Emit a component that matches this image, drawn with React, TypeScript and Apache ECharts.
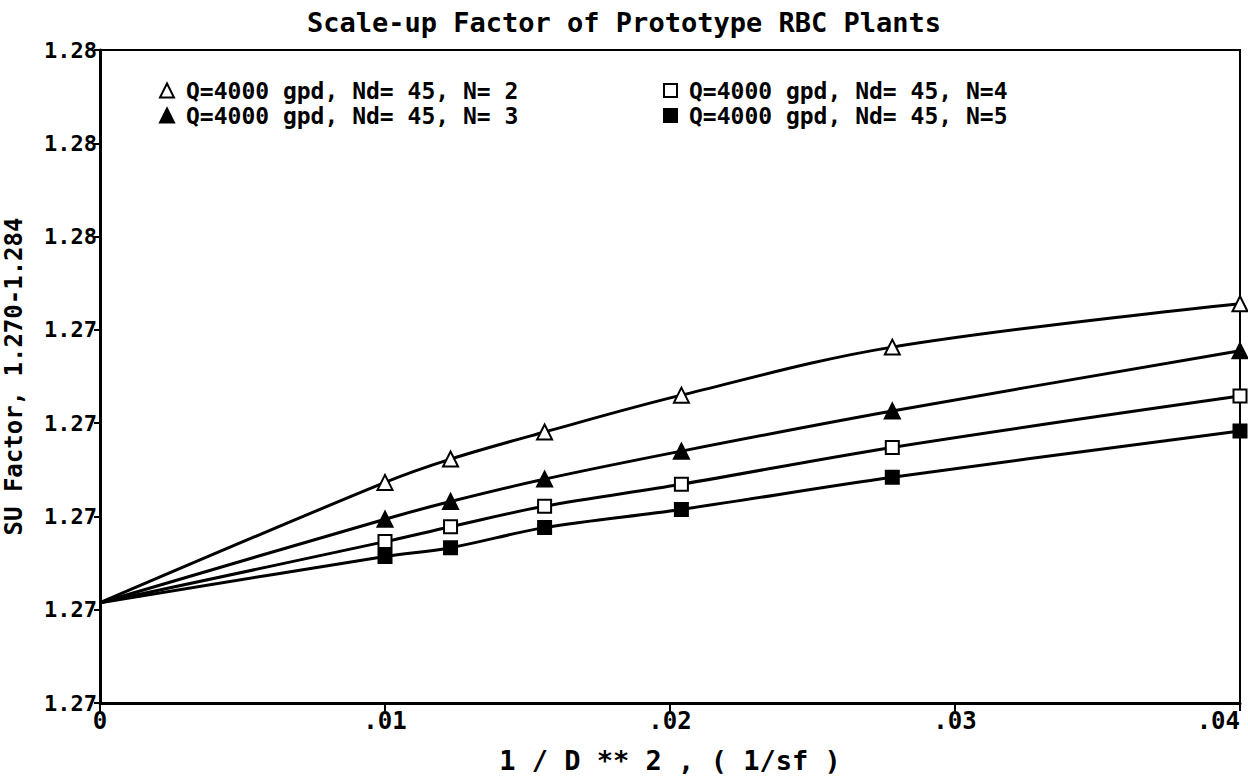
import React, { useEffect, useRef } from "react";
import * as echarts from "echarts";

const xValues = [0, 0.01, 0.0123, 0.0156, 0.0204, 0.0278, 0.04];
const seriesN2 = [1.27215, 1.27473, 1.27523, 1.27581, 1.2766, 1.27763, 1.27856];
const seriesN3 = [1.27215, 1.27394, 1.27432, 1.2748, 1.2754, 1.27626, 1.27755];
const seriesN4 = [1.27215, 1.27346, 1.27378, 1.27422, 1.27469, 1.27548, 1.27658];
const seriesN5 = [1.27215, 1.27314, 1.27333, 1.27376, 1.27415, 1.27484, 1.27583];
const seriesNames = [
  "Q=4000 gpd, Nd= 45, N= 2",
  "Q=4000 gpd, Nd= 45, N= 3",
  "Q=4000 gpd, Nd= 45, N=4",
  "Q=4000 gpd, Nd= 45, N=5",
];
const titleText = "Scale-up Factor of Prototype RBC Plants";
const xAxisName = "1 / D ** 2 , ( 1/sf )";
const yAxisName = "SU Factor, 1.270-1.284";

const FONT = "'DejaVu Sans Mono', 'Liberation Mono', monospace";

export default function App() {
  const ref = useRef<HTMLDivElement>(null);
  useEffect(() => {
    if (!ref.current) return;
    const chart = echarts.init(ref.current, null, { renderer: "svg" });
    const styles = [
      { symbol: "triangle", fill: "#fff" },
      { symbol: "triangle", fill: "#000" },
      { symbol: "rect", fill: "#fff" },
      { symbol: "rect", fill: "#000" },
    ];
    const allSeries = [seriesN2, seriesN3, seriesN4, seriesN5];
    const series = allSeries.map((vals, i) => ({
      name: seriesNames[i],
      type: "line",
      smooth: 0.35,
      symbol: styles[i].symbol,
      symbolSize: styles[i].symbol === "triangle" ? 15 : 13,
      showSymbol: true,
      lineStyle: { color: "#000", width: 3 },
      itemStyle: { color: styles[i].fill, borderColor: "#000", borderWidth: 2 },
      data: vals.map((v, j) =>
        j === 0 ? { value: [xValues[j], v], symbol: "none" } : { value: [xValues[j], v] }
      ),
      z: 3,
    }));
    const legendItem = (i: number) => ({
      name: seriesNames[i],
      icon: styles[i].symbol,
      itemStyle: { color: styles[i].fill, borderColor: "#000", borderWidth: 2 },
    });
    const legendText = {
      fontFamily: FONT,
      fontWeight: "bold",
      fontSize: 23,
      color: "#000",
      lineHeight: 20,
      padding: [0, 0, 0, 7],
    };
    chart.setOption({
      animation: false,
      backgroundColor: "#fff",
      title: {
        text: titleText,
        left: "center",
        top: 4,
        textStyle: { fontFamily: FONT, fontWeight: "bold", fontSize: 27, color: "#000" },
      },
      legend: [
        {
          orient: "vertical",
          left: 154,
          top: 74,
          itemGap: 2,
          itemWidth: 14,
          itemHeight: 14,
          data: [legendItem(0), legendItem(1)],
          textStyle: legendText,
        },
        {
          orient: "vertical",
          left: 658,
          top: 74,
          itemGap: 2,
          itemWidth: 13,
          itemHeight: 13,
          data: [legendItem(2), legendItem(3)],
          textStyle: legendText,
        },
      ],
      grid: {
        left: 100,
        right: 8,
        top: 50,
        bottom: 77,
        containLabel: false,
        outerBoundsMode: "none",
        show: true,
        borderColor: "#000",
        borderWidth: 2,
        backgroundColor: "transparent",
      },
      xAxis: {
        type: "value",
        min: 0,
        max: 0.04,
        interval: 0.01,
        name: xAxisName,
        nameLocation: "middle",
        nameGap: 44,
        nameMoveOverlap: false,
        nameTextStyle: { fontFamily: FONT, fontWeight: "bold", fontSize: 27, color: "#000" },
        axisLine: { lineStyle: { color: "#000", width: 3 } },
        axisTick: { length: 8, lineStyle: { color: "#000", width: 2 } },
        splitLine: { show: false },
        axisLabel: {
          fontFamily: FONT,
          fontWeight: "bold",
          fontSize: 24,
          color: "#000",
          margin: 6,
          alignMaxLabel: "right",
          formatter: (v: number) => (v === 0 ? "0" : "." + String(Math.round(v * 100)).padStart(2, "0")),
        },
      },
      yAxis: {
        type: "value",
        min: 1.27,
        max: 1.284,
        interval: 0.002,
        name: yAxisName,
        nameLocation: "middle",
        nameRotate: 90,
        nameGap: 74,
        nameMoveOverlap: false,
        nameTextStyle: { fontFamily: FONT, fontWeight: "bold", fontSize: 24, color: "#000" },
        axisLine: { lineStyle: { color: "#000", width: 3 } },
        axisTick: { length: 6, lineStyle: { color: "#000", width: 2 } },
        splitLine: { show: false },
        axisLabel: {
          fontFamily: FONT,
          fontWeight: "bold",
          fontSize: 22,
          color: "#000",
          margin: 3,
          formatter: (v: number) => (Math.floor(v * 100 + 1e-6) / 100).toFixed(2),
        },
      },
      series,
    });
    return () => chart.dispose();
  }, []);
  return (
    <div
      ref={ref}
      style={{ position: "fixed", left: 0, top: 0, width: 1248, height: 780, background: "#fff" }}
    />
  );
}
